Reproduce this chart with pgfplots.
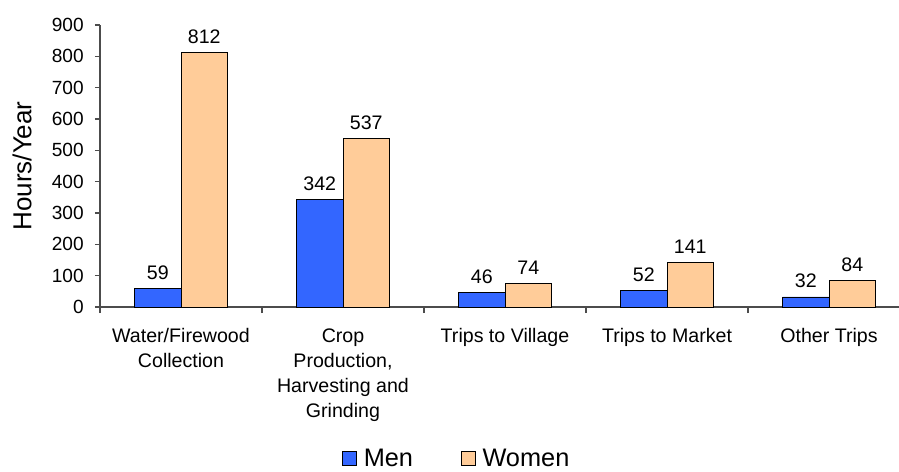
\documentclass[border=0pt]{standalone}
\usepackage{pgfplots}
\pgfplotsset{compat=1.18}
\usepackage{fontspec}
\setmainfont{Liberation Sans}
\definecolor{menblue}{HTML}{3366FF}
\definecolor{womenorange}{HTML}{FFCC99}
\begin{document}
\begin{tikzpicture}
\path[use as bounding box] (-75pt,-123pt) rectangle (599.25pt,230.25pt);
\begin{axis}[
  at={(0,0)}, anchor=south west,
  scale only axis,
  width=599.25pt, height=211.5pt,
  xmin=-0.5, xmax=4.432,
  ymin=0, ymax=900,
  ytick={0,100,...,900},
  xtick={0,1,2,3,4},
  xticklabels={{Water/Firewood\\Collection},{Crop\\Production,\\Harvesting and\\Grinding},{Trips to Village},{Trips to Market},{Other Trips}},
  minor xtick={-0.5,0.5,1.5,2.5,3.5},
  major x tick style={draw=none},
  tick align=outside,
  major tick length=3.75pt,
  minor tick length=4.5pt,
  axis x line*=bottom, axis y line*=left,
  axis line style={black!70, line width=0.8pt},
  every tick/.style={black!70, line width=0.8pt},
  /pgf/number format/assume math mode=true,
  yticklabel style={font=\fontsize{14.3}{16}\selectfont, xshift=-5pt},
  xticklabel style={font=\fontsize{14.7}{18.75}\selectfont, align=center, yshift=-9pt},
  ylabel={Hours/Year},
  every axis y label/.style={at={(axis description cs:-0.0976,0.5)}, rotate=90, anchor=center, font=\fontsize{19.5}{22}\selectfont},
  ybar, bar width=0.287,
  nodes near coords,
  every node near coord/.append style={font=\fontsize{14.7}{16}\selectfont, yshift=3pt, black},
  legend style={at={(0.447,-0.538)}, anchor=center, draw=none, fill=none, legend columns=2,
    inner sep=0pt, nodes={inner ysep=0.5pt},
    font=\fontsize{19}{22}\selectfont,
    /tikz/every even column/.append style={column sep=34pt},
    /tikz/every odd column/.append style={column sep=3pt}},
  legend image code/.code={\draw[#1,draw=black,line width=0.6pt] (0pt,-5.25pt) rectangle (10.5pt,5.25pt);},
]
\addplot[fill=menblue, draw=black, line width=0.6pt, bar shift=-0.1435] coordinates {(0,59) (1,342) (2,46) (3,52) (4,32)};
\addplot[fill=womenorange, draw=black, line width=0.6pt, bar shift=0.1435] coordinates {(0,812) (1,537) (2,74) (3,141) (4,84)};
\legend{Men,Women}
\end{axis}
\end{tikzpicture}
\end{document}
